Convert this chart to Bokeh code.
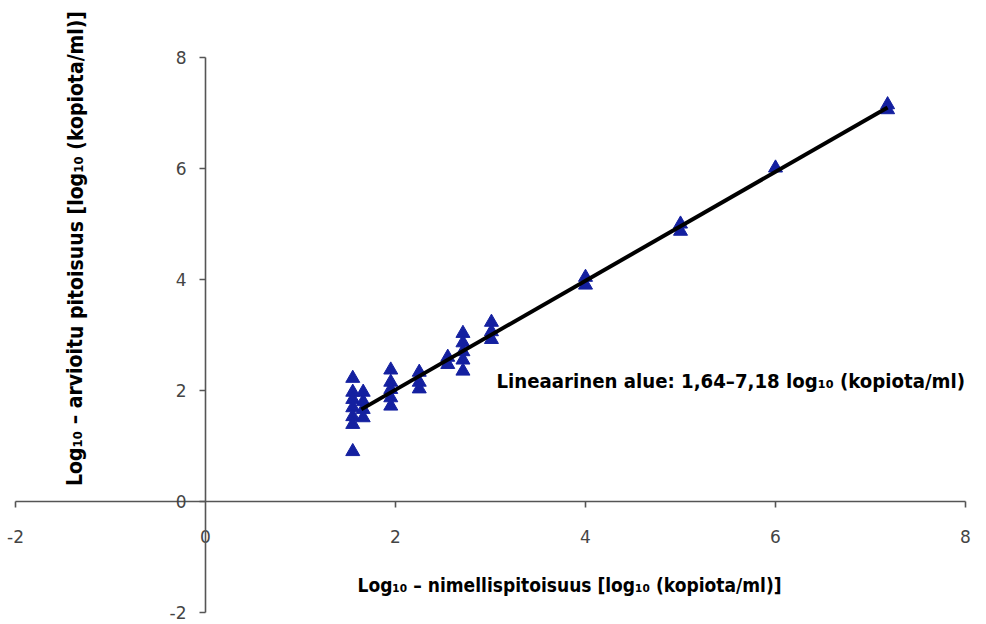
from bokeh.plotting import figure
from bokeh.models import Range1d
from bokeh.core.properties import value
from bokeh.embed import file_html
from bokeh.resources import INLINE

# ---- data ----
nominal = [1.55, 1.55, 1.55, 1.55, 1.55, 1.55, 1.55,
           1.66, 1.66, 1.66, 1.66,
           1.95, 1.95, 1.95, 1.95, 1.95,
           2.25, 2.25, 2.25,
           2.55, 2.55,
           2.71, 2.71, 2.71, 2.71, 2.71,
           3.01, 3.01, 3.01,
           4.0, 4.0,
           5.0, 5.0,
           6.0,
           7.18, 7.18]
estimated = [2.22, 1.97, 1.84, 1.69, 1.53, 1.39, 0.90,
             1.97, 1.80, 1.66, 1.51,
             2.37, 2.15, 2.02, 1.87, 1.72,
             2.33, 2.15, 2.03,
             2.60, 2.47,
             3.03, 2.86, 2.70, 2.55, 2.35,
             3.23, 3.06, 2.92,
             4.04, 3.90,
             5.00, 4.87,
             6.01,
             7.15, 7.06]
fit_x = [1.64, 7.18]
fit_y = [1.66, 7.10]
x_ticks = [-2, 0, 2, 4, 6, 8]
y_ticks = [-2, 0, 2, 4, 6, 8]
x_title = "Log\u2081\u2080 \u2013 nimellispitoisuus [log\u2081\u2080 (kopiota/ml)]"
y_title = "Log\u2081\u2080 \u2013 arvioitu pitoisuus [log\u2081\u2080 (kopiota/ml)]"
note = "Lineaarinen alue: 1,64\u20137,18 log\u2081\u2080 (kopiota/ml)"

W, H = 978, 622
x0 = -2 - 15 / 95.0
x1 = x0 + W / 95.0
y1 = 8 + 57 / 55.5
y0 = y1 - H / 55.5
px_x = (x1 - x0) / W   # data per px
px_y = (y1 - y0) / H

def X(px):
    return x0 + px * px_x

def Y(py):
    return y1 - py * px_y

p = figure(width=W, height=H, output_backend="svg", toolbar_location=None,
           x_range=Range1d(x0, x1), y_range=Range1d(y0, y1),
           min_border=0, outline_line_color=None,
           x_axis_location=None, y_axis_location=None)
p.grid.visible = False
p.background_fill_color = "white"
p.border_fill_color = "white"

axis_col = "#555555"
tick_font = value("DejaVu Sans")
# x axis line at y=0 and ticks
xt_nz = [t for t in x_ticks if t != 0]
p.segment(x0=[x_ticks[0]], y0=[0], x1=[x_ticks[-1]], y1=[0], line_color=axis_col, line_width=1.6)
p.segment(x0=xt_nz, y0=[0] * len(xt_nz), x1=xt_nz, y1=[-6 * px_y] * len(xt_nz),
          line_color=axis_col, line_width=1.6)
p.text(x=x_ticks, y=[-35 * px_y] * len(x_ticks), text=[str(t) for t in x_ticks],
       text_font=tick_font, text_font_size="17px", text_color="#444444",
       text_align="center", text_baseline="middle")
# y axis line at x=0 and ticks
p.segment(x0=[0], y0=[y_ticks[0]], x1=[0], y1=[y_ticks[-1]], line_color=axis_col, line_width=1.6)
p.segment(x0=[0] * len(y_ticks), y0=y_ticks, x1=[-6 * px_x] * len(y_ticks), y1=y_ticks,
          line_color=axis_col, line_width=1.6)
p.text(x=[-19 * px_x] * len(y_ticks), y=y_ticks, text=[str(t) for t in y_ticks],
       text_font=tick_font, text_font_size="17px", text_color="#444444",
       text_align="right", text_baseline="middle")

# data
p.scatter(nominal, estimated, marker="triangle", size=14,
          fill_color="#1420a0", line_color="#1420a0")
p.line(fit_x, fit_y, line_color="black", line_width=4)

# titles
title_font = value("DejaVu Sans Condensed")
p.text(x=[X(569)], y=[Y(584)], text=[x_title],
       text_font=title_font, text_font_style="bold", text_font_size="19px",
       text_color="black", text_align="center", text_baseline="middle")
p.text(x=[X(75)], y=[Y(248)], text=[y_title],
       text_font=title_font, text_font_style="bold", text_font_size="21px",
       text_color="black", text_align="center", text_baseline="middle", angle=1.5707963)
p.text(x=[X(496)], y=[Y(380)], text=[note],
       text_font=title_font, text_font_style="bold", text_font_size="20.2px",
       text_color="black", text_align="left", text_baseline="middle")

open("out.html", "w").write(file_html(p, INLINE))
